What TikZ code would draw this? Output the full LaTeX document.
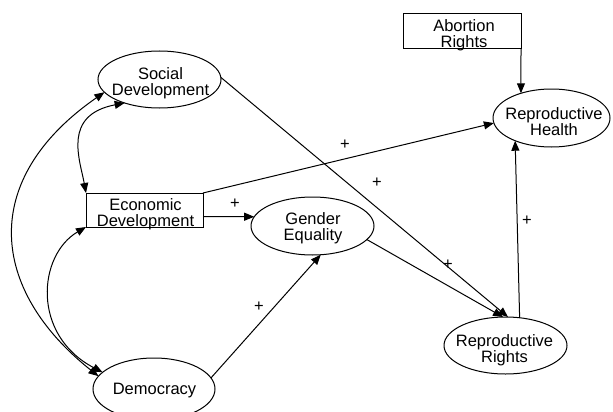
\documentclass[tikz,border=0pt]{standalone}
\usepackage{fontspec}
\setmainfont{Liberation Sans}
\usetikzlibrary{arrows.meta,shapes.geometric}
\begin{document}
\begin{tikzpicture}[x=1pt,y=-1pt,
  oval/.style={ellipse,draw,line width=1pt,inner sep=0pt,outer sep=0pt},
  box/.style={rectangle,draw,line width=1pt,inner sep=0pt,outer sep=0pt},
  txt/.style={align=center,inner sep=0pt,font=\fontsize{16.5}{16}\selectfont},
  plus/.style={inner sep=0pt,font=\fontsize{16.5}{16}\selectfont},
  conn/.style={line width=1pt,-{Triangle[length=10pt,width=8pt]}},
  both/.style={line width=1pt,{Triangle[length=10pt,width=8pt]}-{Triangle[length=10pt,width=8pt]}}]
\useasboundingbox (0,0) rectangle (613,412);
\clip (0,0) rectangle (613,412);
% shapes
\node[oval,minimum width=123pt,minimum height=57pt] (sd) at (159.5,79.5) {};
\node[oval,minimum width=123pt,minimum height=58pt] (ge) at (312.5,226) {};
\node[oval,minimum width=117pt,minimum height=58pt] (rh) at (551.5,118) {};
\node[oval,minimum width=123pt,minimum height=57pt] (rr) at (505.5,345.5) {};
\node[oval,minimum width=122pt,minimum height=62pt] (dem) at (154,389) {};
\node[box,minimum width=117pt,minimum height=34pt] (econ) at (144.5,210) {};
\node[box,minimum width=118pt,minimum height=35pt] (ab) at (462,31.5) {};
% texts
\node[txt] (sdt) at (160.5,83.3) {Social\\Development};
\node[txt] (get) at (313,228.6) {Gender\\Equality};
\node[txt] (rht) at (554,121.3) {Reproductive\\Health};
\node[txt] (rrt) at (504.5,350.2) {Reproductive\\Rights};
\node[txt] (demt) at (154.5,390.9) {Democracy};
\node[txt] (econt) at (145.5,214.7) {Economic\\Development};
\node[txt] (abt) at (464,35.5) {Abortion\\Rights};
% connectors
\draw[conn] (ab.south east) -- (rh.141);
\draw[conn] (econ.north east) -- (rh.185);
\draw[conn] ([yshift=-6.5pt]econ.east) -- (ge.171);
\draw[conn] (sd.2) -- (rr.85);
\draw[conn] (ge.346) -- (rr.95);
\draw[conn] (dem.11.5) -- (ge.286);
\draw[conn] (rr.63) -- (rh.212);
\draw[both] (sd.193) .. controls (-22,180) and (-10,290) .. (dem.167);
\draw[both] (sd.214) .. controls (62,115) and (80,160) .. (econ.north west);
\draw[both] (econ.south west) .. controls (38,255) and (31,335) .. (dem.162);
% signs
\node[plus] (p1) at (235,204) {+};
\node[plus] (p2) at (345,145) {+};
\node[plus] (p3) at (377,183) {+};
\node[plus] (p4) at (259,307) {+};
\node[plus] (p5) at (448,265) {+};
\node[plus] (p6) at (527,221) {+};
\end{tikzpicture}
\end{document}
